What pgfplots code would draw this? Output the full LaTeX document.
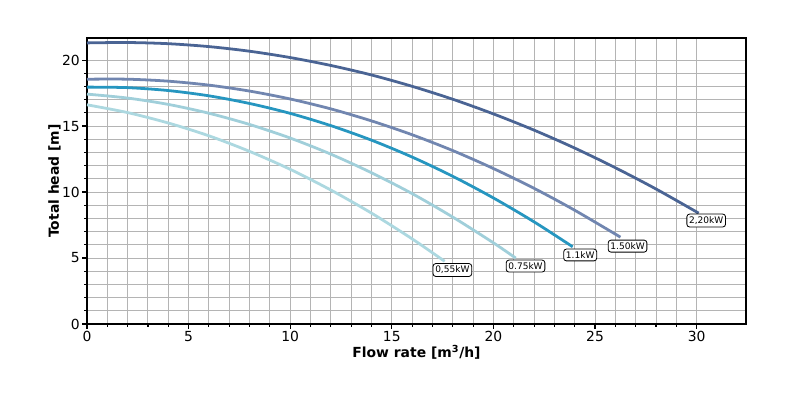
\documentclass[border=0pt]{standalone}
\usepackage{fontspec}
\setmainfont{DejaVu Sans}
\usepackage{pgfplots}
\pgfplotsset{compat=1.18}
\definecolor{cA}{RGB}{74,100,148}
\definecolor{cB}{RGB}{113,134,176}
\definecolor{cC}{RGB}{38,150,192}
\definecolor{cD}{RGB}{160,207,218}
\definecolor{cE}{RGB}{172,216,224}
\definecolor{gridc}{RGB}{180,180,180}
\begin{document}
\begin{tikzpicture}
\path[use as bounding box, fill=white] (-62.64pt,-54.72pt) rectangle (513.36pt,233.28pt);
\begin{axis}[
  at={(0,0)}, anchor=south west,
  scale only axis, width=474.5pt, height=205.9pt,
  xmin=0, xmax=32.43, ymin=0, ymax=21.67,
  xtick={0,5,...,30}, ytick={0,5,...,20},
  minor x tick num=4, minor y tick num=4,
  grid=both,
  major grid style={gridc, line width=0.7pt},
  minor grid style={gridc, line width=0.7pt},
  axis line style={black, line width=0.8pt},
  tick align=outside,
  xtick pos=bottom, ytick pos=left,
  major tick length=3.5pt, minor tick length=2pt,
  every tick/.style={black, line width=0.8pt},
  tick label style={font=\fontsize{10}{12}\selectfont},
  /pgf/number format/assume math mode=true,
  xticklabel style={inner sep=0pt, yshift=-1.5pt},
  yticklabel style={inner sep=0pt, xshift=-1.5pt},
  every axis y label/.style={at={(axis description cs:0,0.5)}, xshift=-23.4pt, rotate=90, anchor=center},
  every axis x label/.style={at={(axis description cs:0.5,0)}, anchor=center, yshift=-20.5pt},
  label style={font=\fontsize{10}{12}\selectfont\bfseries},
  xlabel={Flow rate [m\textsuperscript{3}/h]},
  ylabel={Total head [m]},
  clip=false,
]
\addplot[cE, line width=2pt, smooth] coordinates {(0,16.61) (2,16.02) (4,15.23) (6,14.26) (8,13.08) (10,11.72) (12,10.15) (14,8.40) (16,6.45) (17.6,4.75)};
\addplot[cD, line width=2pt, smooth] coordinates {(0,17.42) (2,17.12) (4,16.64) (6,15.97) (8,15.12) (10,14.09) (12,12.87) (14,11.46) (16,9.88) (18,8.10) (20,6.15) (21.1,4.99)};
\addplot[cC, line width=2pt, smooth] coordinates {(0,17.95) (2,17.91) (4,17.69) (6,17.29) (8,16.71) (10,15.96) (12,15.03) (14,13.93) (16,12.65) (18,11.19) (20,9.55) (22,7.74) (23.9,5.85)};
\addplot[cB, line width=2pt, smooth] coordinates {(0,18.55) (2,18.55) (4,18.40) (6,18.10) (8,17.65) (10,17.05) (12,16.30) (14,15.39) (16,14.34) (18,13.14) (20,11.78) (22,10.28) (24,8.62) (26.25,6.58)};
\addplot[cA, line width=2pt, smooth] coordinates {(0,21.30) (2,21.33) (4,21.24) (6,21.02) (8,20.67) (10,20.19) (12,19.59) (14,18.87) (16,18.01) (18,17.03) (20,15.92) (22,14.69) (24,13.33) (26,11.84) (28,10.23) (30.1,8.40)};
\tikzset{lbl/.style={draw=black, fill=white, rounded corners=2pt, line width=0.6pt, inner xsep=1.6pt, inner ysep=1.8pt, font=\fontsize{6.5}{7}\selectfont}}
\node[lbl] at (axis cs:17.98,4.09) {0,55kW};
\node[lbl] at (axis cs:21.58,4.39) {0.75kW};
\node[lbl] at (axis cs:24.27,5.23) {1.1kW};
\node[lbl] at (axis cs:26.60,5.90) {1.50kW};
\node[lbl] at (axis cs:30.47,7.84) {2,20kW};
\end{axis}
\end{tikzpicture}
\end{document}
